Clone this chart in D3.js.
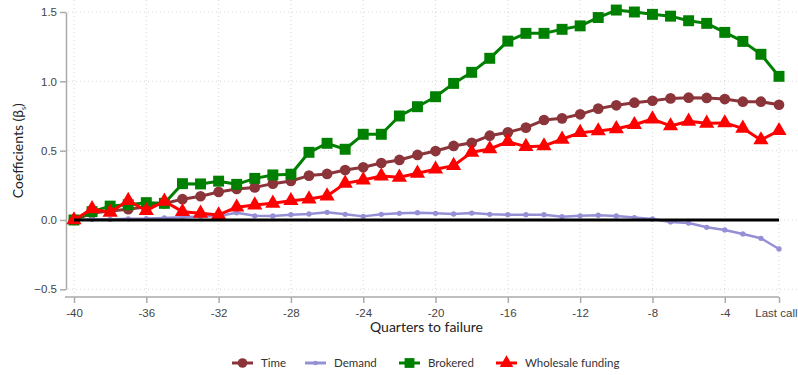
<!DOCTYPE html>
<html>
<head>
  <meta charset="utf-8">
  <style>
    body { margin: 0; background: #fff; }
    svg { font-family: "Lato", "Open Sans", sans-serif; }
    .axis text { font-size: 11.5px; fill: #444; }
    .axis line, .axis path { stroke: #aaa; stroke-width: 1.5px; }
    .grid line { stroke: #d8d8d8; stroke-width: 1px; stroke-dasharray: 1 3; }
    .legend text { font-size: 11.5px; fill: #333; }
  </style>
</head>
<body>
  <svg id="chart" width="798" height="375"></svg>

  <script src="https://d3js.org/d3.v7.min.js"></script>
  <script>
    // quarters to failure: -40 .. -1 (the last one is "Last call")
    const quarters = d3.range(-40, 0);

    const time = [0, 0.05, 0.065, 0.078, 0.096, 0.12, 0.15, 0.171, 0.202, 0.224,
      0.235, 0.262, 0.281, 0.32, 0.332, 0.36, 0.38, 0.411, 0.433, 0.469,
      0.497, 0.534, 0.557, 0.608, 0.632, 0.666, 0.721, 0.733, 0.762, 0.803,
      0.827, 0.846, 0.86, 0.877, 0.882, 0.88, 0.872, 0.853, 0.853, 0.831];

    const demand = [0, 0.005, 0.005, 0.008, 0.01, 0.015, 0.02, 0.025, 0.028, 0.052,
      0.03, 0.029, 0.038, 0.043, 0.055, 0.041, 0.026, 0.041, 0.048, 0.053,
      0.048, 0.043, 0.05, 0.041, 0.038, 0.038, 0.038, 0.024, 0.03, 0.034,
      0.029, 0.017, 0.007, -0.014, -0.022, -0.053, -0.072, -0.101, -0.132, -0.209];

    const brokered = [0, 0.06, 0.1, 0.11, 0.125, 0.12, 0.262, 0.26, 0.28, 0.257,
      0.3, 0.325, 0.33, 0.488, 0.553, 0.51, 0.618, 0.618, 0.75, 0.817,
      0.889, 0.985, 1.065, 1.166, 1.29, 1.346, 1.346, 1.375, 1.4, 1.46,
      1.514, 1.5, 1.483, 1.47, 1.437, 1.418, 1.353, 1.288, 1.195, 1.036];

    const wholesale = [0, 0.08, 0.055, 0.14, 0.067, 0.135, 0.06, 0.048, 0.036, 0.092,
      0.108, 0.12, 0.139, 0.151, 0.173, 0.264, 0.288, 0.317, 0.308, 0.337,
      0.366, 0.392, 0.488, 0.512, 0.565, 0.529, 0.534, 0.582, 0.63, 0.642,
      0.658, 0.687, 0.728, 0.678, 0.712, 0.697, 0.7, 0.661, 0.577, 0.644];

    const xTicks = [-40, -36, -32, -28, -24, -20, -16, -12, -8, -4, -1];
    const yTicks = [-0.5, 0, 0.5, 1.0, 1.5];

    const series = [
      { name: "Time", values: time, color: "#8b3439", symbol: d3.symbolCircle, size: 90, width: 3 },
      { name: "Demand", values: demand, color: "#9590d6", symbol: d3.symbolCircle, size: 22, width: 2.5 },
      { name: "Brokered", values: brokered, color: "#008000", symbol: d3.symbolSquare, size: 120, width: 3 },
      { name: "Wholesale funding", values: wholesale, color: "#ff0000", symbol: d3.symbolTriangle, size: 100, width: 3 }
    ];

    const svg = d3.select("#chart");
    const axisX = 66, axisY = 297;

    const x = d3.scaleLinear().domain([-40, -1]).range([74, 779]);
    const y = d3.scaleLinear().domain([-0.5, 1.5]).range([289.3, 12]);

    // grid
    const grid = svg.append("g").attr("class", "grid");
    grid.selectAll(".gy").data(yTicks).enter().append("line")
      .attr("x1", axisX + 2).attr("x2", 800)
      .attr("y1", d => y(d)).attr("y2", d => y(d));
    grid.selectAll(".gx").data(xTicks).enter().append("line")
      .attr("x1", d => x(d)).attr("x2", d => x(d))
      .attr("y1", 0).attr("y2", axisY - 2);

    // axes
    const yAxis = d3.axisLeft(y).tickValues(yTicks).tickSize(6).tickSizeOuter(0).tickFormat(d3.format(".1f"));
    svg.append("g").attr("class", "axis")
      .attr("transform", `translate(${axisX},0)`)
      .call(yAxis)
      .call(g => g.selectAll("text").attr("x", -9));

    const xAxis = d3.axisBottom(x).tickValues(xTicks).tickSize(6).tickSizeOuter(0)
      .tickFormat(d => d === -1 ? "Last call" : d);
    svg.append("g").attr("class", "axis")
      .attr("transform", `translate(0,${axisY})`)
      .call(xAxis)
      .call(g => g.select(".domain").remove())
      .call(g => g.append("line").attr("x1", axisX - 1).attr("x2", x(-1)).attr("y1", 0).attr("y2", 0))
      .call(g => g.selectAll("text").attr("y", 12))
      .call(g => g.selectAll(".tick").filter(d => d === -1).select("text")
        .attr("text-anchor", "end").attr("dx", 18));

    // axis titles
    svg.append("text")
      .attr("x", (x(-40) + x(-1)) / 2).attr("y", 332)
      .attr("text-anchor", "middle")
      .style("font-size", "14px").style("fill", "#222")
      .text("Quarters to failure");

    const yt = svg.append("text")
      .attr("transform", `translate(23,${y(0.5)}) rotate(-90)`)
      .attr("text-anchor", "middle")
      .style("font-size", "14px").style("fill", "#222");
    yt.append("tspan").text("Coefficients (β");
    yt.append("tspan").attr("dy", 3).style("font-size", "7px").text("s");
    yt.append("tspan").attr("dy", -3).text(")");

    // series
    const line = d3.line().x((d, i) => x(quarters[i])).y(d => y(d));

    series.forEach(s => {
      svg.append("path")
        .attr("d", line(s.values))
        .attr("fill", "none")
        .attr("stroke", s.color)
        .attr("stroke-width", s.width)
        .attr("stroke-linejoin", "round");
      svg.append("g").selectAll("path").data(s.values).enter().append("path")
        .attr("d", d3.symbol().type(s.symbol).size(s.size))
        .attr("transform", (d, i) => `translate(${x(quarters[i])},${y(d)})`)
        .attr("fill", s.color);
    });

    // zero line
    svg.append("line")
      .attr("x1", x(-40)).attr("x2", x(-1))
      .attr("y1", y(0)).attr("y2", y(0))
      .attr("stroke", "#000").attr("stroke-width", 3);

    // legend
    const legendX = [232, 305, 399, 496];
    const legend = svg.append("g").attr("class", "legend");
    const items = legend.selectAll("g").data(series).enter().append("g")
      .attr("transform", (d, i) => `translate(${legendX[i]},363)`);
    items.append("line")
      .attr("x1", 0).attr("x2", 21)
      .attr("stroke", d => d.color).attr("stroke-width", 3);
    items.append("path")
      .attr("d", d => d3.symbol().type(d.symbol).size(d.size * 0.8)())
      .attr("transform", "translate(10.5,0)")
      .attr("fill", d => d.color);
    items.append("text")
      .attr("x", 29).attr("y", 4)
      .text(d => d.name);
  </script>
</body>
</html>
